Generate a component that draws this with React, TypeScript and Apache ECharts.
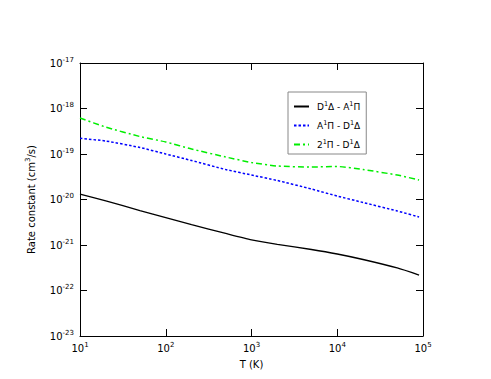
import React, { useEffect, useRef } from "react";
import * as echarts from "echarts";

const temperatures = [10, 20, 50, 100, 200, 500, 1000, 2000, 5000, 10000, 20000, 50000, 90000];
const rateDA = [1.32e-20, 9.3e-21, 5.73e-21, 4.02e-21, 2.82e-21, 1.79e-21, 1.29e-21, 1.03e-21, 7.96e-22, 6.34e-22, 4.8e-22, 3.13e-22, 2.19e-22];
const rateAD = [2.21e-19, 1.93e-19, 1.39e-19, 1.0e-19, 7.2e-20, 4.56e-20, 3.45e-20, 2.62e-20, 1.7e-20, 1.19e-20, 8.6e-21, 5.6e-21, 4.12e-21];
const rate2D = [6.18e-19, 3.9e-19, 2.42e-19, 1.84e-19, 1.29e-19, 8.6e-20, 6.5e-20, 5.45e-20, 5.18e-20, 5.31e-20, 4.56e-20, 3.45e-20, 2.69e-20];
const seriesNames = ["{b|D}{s|1}{b|Δ - A}{s|1}{b|Π}", "{b|A}{s|1}{b|Π - D}{s|1}{b|Δ}", "{b|2}{s|1}{b|Π - D}{s|1}{b|Δ}"];
const xExponents = [1, 5];
const yExponents = [-23, -17];
const xLabel = "T (K)";
const yLabel = "{b|Rate constant (cm}{s|3}{b|/s)}";

const FONT = "DejaVu Sans";
const rich = {
  b: { fontFamily: FONT, fontSize: 10, color: "#000", lineHeight: 14 },
  s: { fontFamily: FONT, fontSize: 7, color: "#000", lineHeight: 14, padding: [0, 0, 7, 0] },
};
const legendRich = {
  b: { fontFamily: FONT, fontSize: 9, color: "#000", lineHeight: 14 },
  s: { fontFamily: FONT, fontSize: 6.5, color: "#000", lineHeight: 14, padding: [0, 0, 6, 0] },
};
const expLabel = (v: number) => `{b|10}{s|${Math.round(v)}}`;

export default function App() {
  const ref = useRef<HTMLDivElement>(null);
  useEffect(() => {
    const chart = echarts.init(ref.current!, null, { renderer: "svg" });
    const pairs = (arr: number[]) => temperatures.map((t, i) => [Math.log10(t), Math.log10(arr[i])]);
    const axisCommon = {
      type: "value" as const,
      interval: 1,
      axisLine: { show: true, onZero: false, lineStyle: { color: "#000", width: 1 } },
      axisTick: { show: true, inside: true, length: 7, lineStyle: { color: "#000" } },
      splitLine: { show: false },
    };
    chart.setOption({
      animation: false,
      grid: { left: 80, right: 68, top: 63, bottom: 43 },
      xAxis: [
        {
          ...axisCommon,
          min: xExponents[0],
          max: xExponents[1],
          axisLabel: { formatter: expLabel, rich, margin: 5 },
          name: xLabel,
          nameLocation: "middle",
          nameGap: 14,
          nameTextStyle: { fontFamily: FONT, fontSize: 10, color: "#000" },
        },
        {
          ...axisCommon,
          position: "top",
          min: xExponents[0],
          max: xExponents[1],
          axisLabel: { show: false },
        },
      ],
      yAxis: [
        {
          ...axisCommon,
          min: yExponents[0],
          max: yExponents[1],
          axisLabel: { formatter: expLabel, rich, margin: 6 },
          name: yLabel,
          nameLocation: "middle",
          nameRotate: 90,
          nameGap: 40,
          nameTextStyle: { rich },
        },
        {
          ...axisCommon,
          position: "right",
          min: yExponents[0],
          max: yExponents[1],
          axisLabel: { show: false },
        },
      ],
      legend: {
        orient: "vertical",
        left: 288,
        top: 92,
        padding: [8, 6, 3, 5],
        itemGap: 6,
        itemWidth: 15,
        itemHeight: 12,
        borderColor: "#888",
        borderWidth: 1,
        backgroundColor: "#fff",
        itemStyle: { opacity: 0 },
        textStyle: { rich: legendRich, padding: [0, 0, 0, 3] },
        data: seriesNames,
      },
      series: [
        {
          name: seriesNames[0],
          type: "line",
          data: pairs(rateDA),
          symbol: "none",
          smooth: 0.2,
          lineStyle: { color: "#000", width: 1.3, type: "solid" },
          itemStyle: { color: "#000" },
        },
        {
          name: seriesNames[1],
          type: "line",
          data: pairs(rateAD),
          symbol: "none",
          smooth: 0.2,
          lineStyle: { color: "#0000ff", width: 1.5, type: [2.5, 2] },
          itemStyle: { color: "#0000ff" },
        },
        {
          name: seriesNames[2],
          type: "line",
          data: pairs(rate2D),
          symbol: "none",
          smooth: 0.2,
          lineStyle: { color: "#00ee00", width: 1.5, type: [6, 3, 2, 3] },
          itemStyle: { color: "#00ee00" },
        },
      ],
    });
    return () => chart.dispose();
  }, []);
  return <div ref={ref} style={{ position: "fixed", left: 0, top: 0, width: 491, height: 379, background: "#fff" }} />;
}
